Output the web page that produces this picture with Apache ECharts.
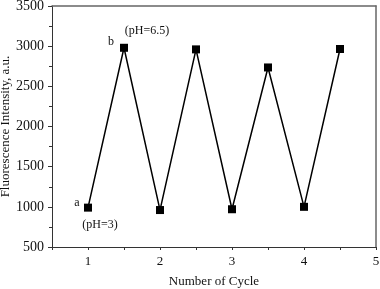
<!DOCTYPE html>
<html>
<head>
<meta charset="utf-8">
<script src="https://cdn.jsdelivr.net/npm/echarts@6/dist/echarts.min.js"></script>
<style>html,body{margin:0;padding:0;background:#fff}#c{width:380px;height:289px}</style>
</head>
<body>
<div id="c"></div>
<script>
var cycles = [1, 1.5, 2, 2.5, 3, 3.5, 4, 4.5];
var intensity = [990, 2980, 960, 2960, 970, 2735, 1000, 2965];
var yTicks = [500, 1000, 1500, 2000, 2500, 3000, 3500];
var xTicks = [1, 2, 3, 4, 5];

var font = 'Liberation Serif';
var chart = echarts.init(document.getElementById('c'));
var axisColor = '#333';
chart.setOption({
  animation: false,
  grid: {left: 52, right: 4, top: 6, bottom: 42, containLabel: false, outerBoundsMode: 'none'},
  xAxis: [{
    type: 'value', min: 0.5, max: 5, interval: 0.5,
    name: 'Number of Cycle', nameLocation: 'middle', nameGap: 28, nameMoveOverlap: false,
    nameTextStyle: {fontFamily: font, fontSize: 13, color: '#111'},
    axisLine: {lineStyle: {color: axisColor, width: 1}},
    axisTick: {show: true, length: 3, lineStyle: {color: axisColor}},
    axisLabel: {fontFamily: font, fontSize: 13, color: '#111', margin: 8,
      formatter: function (v) { return xTicks.indexOf(v) >= 0 ? String(v) : ''; }},
    splitLine: {show: false}
  }, {
    type: 'value', position: 'top', min: 0.5, max: 5,
    axisLine: {show: true, lineStyle: {color: '#666', width: 1.5}},
    axisTick: {show: false}, axisLabel: {show: false}, splitLine: {show: false}
  }],
  yAxis: [{
    type: 'value', min: 500, max: 3500, interval: 500,
    name: 'Fluorescence Intensity, a.u.', nameLocation: 'middle', nameGap: 40, nameMoveOverlap: false,
    nameTextStyle: {fontFamily: font, fontSize: 13, color: '#111'},
    axisLine: {show: true, lineStyle: {color: axisColor, width: 1}},
    axisTick: {show: true, length: 4, lineStyle: {color: axisColor}},
    minorTick: {show: true, splitNumber: 2, length: 3, lineStyle: {color: axisColor}},
    axisLabel: {fontFamily: font, fontSize: 14, color: '#111', margin: 8,
      formatter: function (v) { return yTicks.indexOf(v) >= 0 ? String(v) : ''; }},
    splitLine: {show: false}
  }, {
    type: 'value', position: 'right', min: 500, max: 3500,
    axisLine: {show: true, lineStyle: {color: '#666', width: 1.5}},
    axisTick: {show: false}, axisLabel: {show: false}, splitLine: {show: false}
  }],
  series: [{
    type: 'line',
    data: cycles.map(function (c, i) { return [c, intensity[i]]; }),
    symbol: 'rect', symbolSize: 8,
    itemStyle: {color: '#000'},
    lineStyle: {color: '#000', width: 1.5},
    markPoint: {
      symbol: 'circle', symbolSize: 0,
      label: {show: true, fontFamily: font, fontSize: 12, color: '#111'},
      data: [
        {coord: [cycles[0], intensity[0]], label: {formatter: 'a', offset: [-11, -5]}},
        {coord: [cycles[0], intensity[0]], label: {formatter: '(pH=3)', offset: [12, 17]}},
        {coord: [cycles[1], intensity[1]], label: {formatter: 'b', offset: [-13, -6]}},
        {coord: [cycles[1], intensity[1]], label: {formatter: '(pH=6.5)', offset: [23, -17]}}
      ]
    }
  }]
});
</script>
</body>
</html>
